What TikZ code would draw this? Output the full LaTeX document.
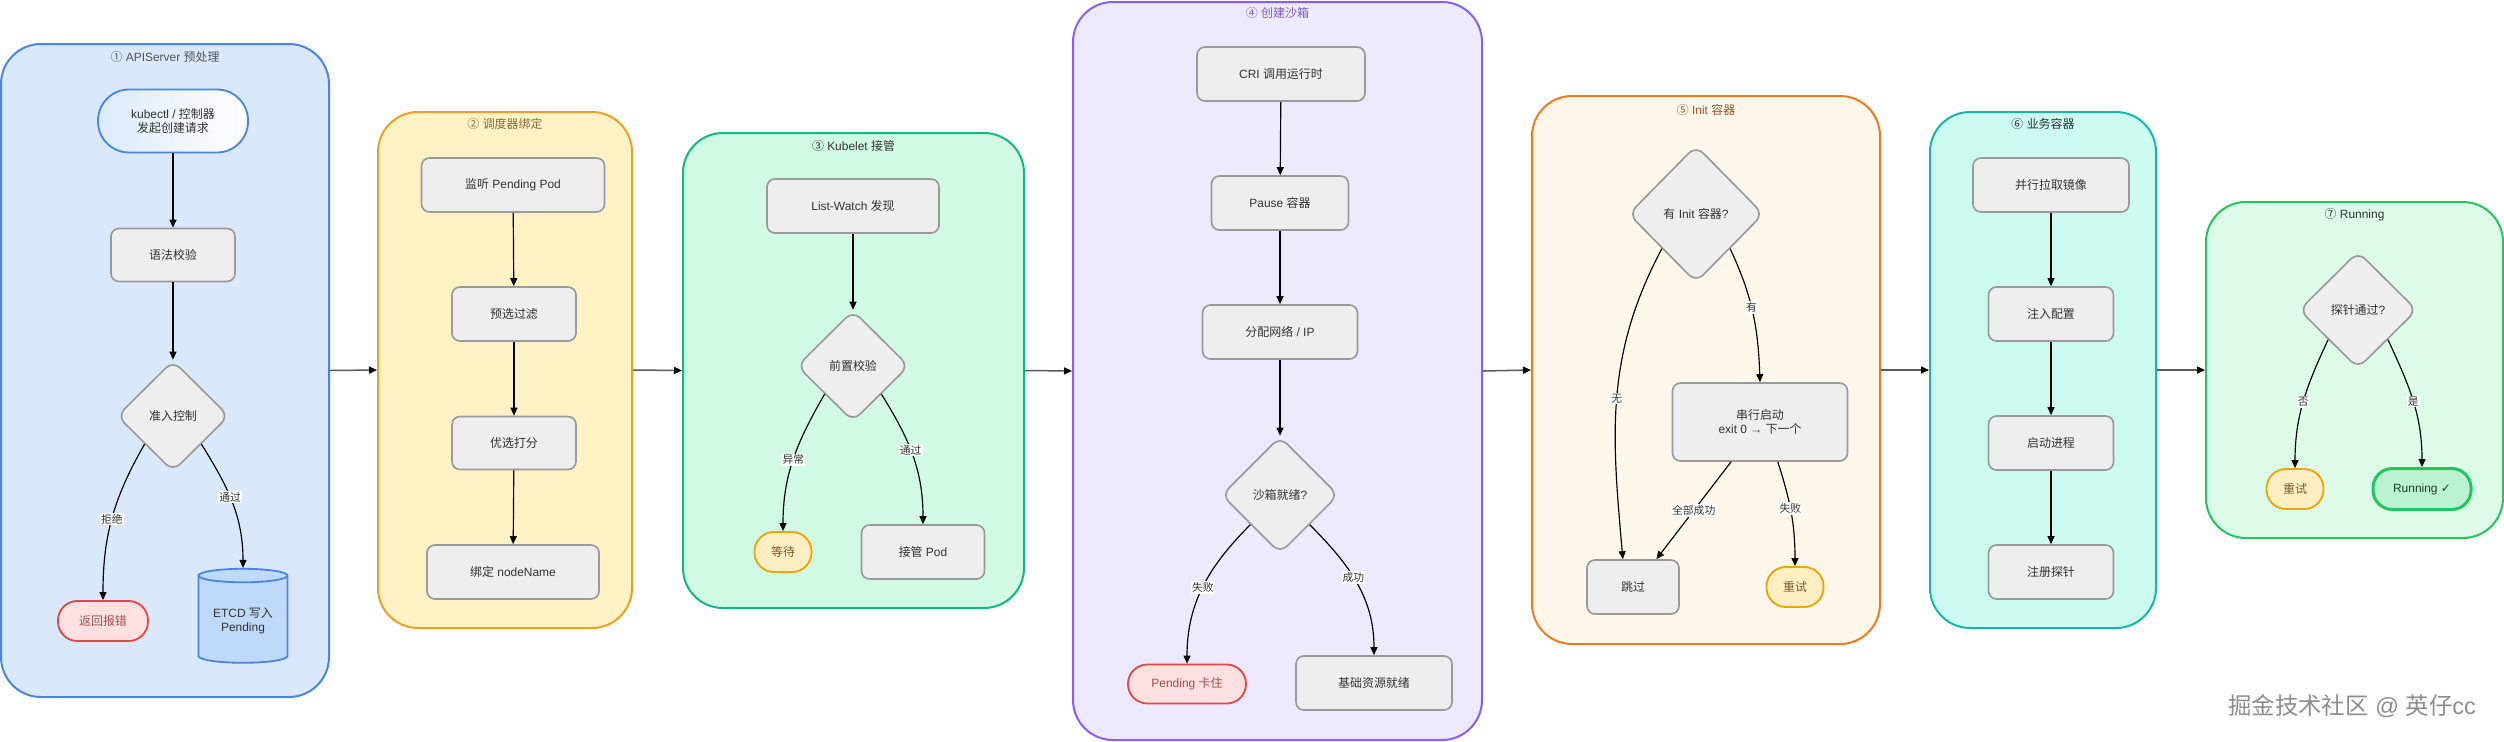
\documentclass[tikz,border=0pt]{standalone}
\usepackage{fontspec}
\setmainfont{Liberation Sans}
\newfontfamily\cjkfont{Noto Sans CJK SC}
\newfontfamily\latfont{Liberation Sans}
\newfontfamily\symfont{DejaVu Sans}
\usepackage{xcolor}
\usepackage{tikz}
\usetikzlibrary{shapes.geometric,shapes.misc,arrows.meta,positioning,calc}

% switch to the CJK face for ideographs and circled digits
\chardef\cjkclass=10
\newcount\cjkcode
\cjkcode="4E00
\loop
  \XeTeXcharclass\cjkcode=\cjkclass
  \advance\cjkcode by 1
\ifnum\cjkcode<"9FFF\repeat
\cjkcode="2460
\loop
  \XeTeXcharclass\cjkcode=\cjkclass
  \advance\cjkcode by 1
\ifnum\cjkcode<"2467\repeat
\XeTeXinterchartoks 0 \cjkclass = {\cjkfont}
\XeTeXinterchartoks 4095 \cjkclass = {\cjkfont}
\XeTeXinterchartoks \cjkclass 0 = {\latfont}
\XeTeXinterchartoks \cjkclass 4095 = {\latfont}
\XeTeXinterchartokenstate=1

\definecolor{txtGray}{HTML}{333333}
\definecolor{procFill}{HTML}{EEEEEE}
\definecolor{procLine}{HTML}{9A9A9A}
\definecolor{linkGray}{HTML}{5A5A5A}
\definecolor{blueFill}{HTML}{DAE8FC}
\definecolor{blueLine}{HTML}{4A86E0}
\definecolor{blueTitle}{HTML}{555555}
\definecolor{kubeL}{HTML}{DCEAFB}
\definecolor{etcdFill}{HTML}{BFD9FB}
\definecolor{yelFill}{HTML}{FFF2C4}
\definecolor{yelLine}{HTML}{F0A020}
\definecolor{yelTitle}{HTML}{8B6A3A}
\definecolor{mintFill}{HTML}{D1FAE5}
\definecolor{mintLine}{HTML}{10B981}
\definecolor{lavFill}{HTML}{EDE9FE}
\definecolor{lavLine}{HTML}{8B5CF6}
\definecolor{lavTitle}{HTML}{7B5FC9}
\definecolor{orgFill}{HTML}{FFF7EA}
\definecolor{orgLine}{HTML}{F07A20}
\definecolor{orgTitle}{HTML}{A0522D}
\definecolor{tealFill}{HTML}{CCFBF1}
\definecolor{tealLine}{HTML}{14B8A6}
\definecolor{grnFill}{HTML}{DCFCE7}
\definecolor{grnLine}{HTML}{22C55E}
\definecolor{redFill}{HTML}{FDE0E0}
\definecolor{redLine}{HTML}{E04848}
\definecolor{redText}{HTML}{A05050}
\definecolor{ambFill}{HTML}{FFEFC2}
\definecolor{ambLine}{HTML}{F0A500}
\definecolor{ambText}{HTML}{7A5A2A}
\definecolor{okFill}{HTML}{BBF2CF}
\definecolor{okLine}{HTML}{22C55E}
\definecolor{okText}{HTML}{1F3D2A}
\definecolor{wmGray}{HTML}{8C8C8C}

\begin{document}
\begin{tikzpicture}[x=0.3mm,y=-0.3mm,
    >={Triangle[length=2.4mm,width=2.1mm]},
    every node/.style={font=\fontsize{10.2}{12.5}\selectfont,text=txtGray},
    gsize/.style 2 args={minimum width=#1*0.3mm,minimum height=#2*0.3mm},
    group/.style={rectangle,draw,rounded corners=12mm,line width=0.6mm,inner sep=0},
    title/.style={font=\fontsize{10.2}{12}\selectfont},
    proc/.style={rectangle,draw=procLine,fill=procFill,rounded corners=2.4mm,line width=0.5mm},
    decision/.style={diamond,aspect=1,draw=procLine,fill=procFill,rounded corners=3mm,line width=0.5mm,inner sep=0},
    pill/.style={rectangle,rounded corners=5.8mm,line width=0.55mm},
    amber/.style={pill,draw=ambLine,fill=ambFill,text=ambText},
    lbl/.style={fill=white,inner sep=1pt,font=\fontsize{9.2}{10}\selectfont},
    flow/.style={->,line width=0.35mm},
    link/.style={-{Triangle[length=2.4mm,width=2.1mm,color=black]},line width=0.45mm,draw=linkGray}]

\useasboundingbox (0,0) rectangle (2504,741);

% stage frames
\node[group,draw=blueLine,fill=blueFill,gsize={328}{653}] (g1) at (165,370.5) {};
\node[group,draw=yelLine,fill=yelFill,gsize={254}{516}] (g2) at (505,370) {};
\node[group,draw=mintLine,fill=mintFill,gsize={341}{475}] (g3) at (853.5,370.5) {};
\node[group,draw=lavLine,fill=lavFill,gsize={409}{738}] (g4) at (1277.5,371) {};
\node[group,draw=orgLine,fill=orgFill,gsize={348}{548}] (g5) at (1706,370) {};
\node[group,draw=tealLine,fill=tealFill,gsize={226}{516}] (g6) at (2043,370) {};
\node[group,draw=grnLine,fill=grnFill,gsize={297}{336}] (g7) at (2354.5,370) {};

\node[title,text=blueTitle] (t1) at ([yshift=-4.2mm]g1.north) {① APIServer 预处理};
\node[title,text=yelTitle] (t2) at ([yshift=-3.9mm]g2.north) {② 调度器绑定};
\node[title] (t3) at ([yshift=-4.2mm]g3.north) {③ Kubelet 接管};
\node[title,text=lavTitle] (t4) at ([yshift=-3.6mm]g4.north) {④ 创建沙箱};
\node[title,text=orgTitle] (t5) at ([yshift=-4.5mm]g5.north) {⑤ Init 容器};
\node[title] (t6) at ([yshift=-3.9mm]g6.north) {⑥ 业务容器};
\node[title] (t7) at ([yshift=-4.2mm]g7.north) {⑦ Running};

\foreach \a/\b in {g1/g2,g2/g3,g3/g4,g4/g5,g5/g6,g6/g7}
  \draw[link] (\a.east) -- (\b.west);

% 1 apiserver
\node[pill,rounded corners=9.3mm,draw=blueLine,left color=kubeL,right color=white,
      gsize={150}{63},align=center] (req) at (173,121) {kubectl / 控制器\\发起创建请求};
\node[proc,gsize={124}{53}] (syntax) at (173,255) {语法校验};
\node[decision,gsize={112}{111}] (admit) at (173,416) {准入控制};
\node[pill,draw=redLine,fill=redFill,text=redText,gsize={90}{40}] (reject) at (103,621) {返回报错};
\node[cylinder,shape border rotate=90,aspect=0.2,draw=blueLine,fill=etcdFill,line width=0.55mm,
      gsize={89}{94},align=center] (etcd) at (243,621) {ETCD 写入\\Pending};

\draw[flow] (req) -- (syntax);
\draw[flow] (syntax) -- (admit);
\draw[flow] (admit.south west) to[out=-120,in=90] node[lbl,pos=0.5] {拒绝} (reject.north);
\draw[flow] (admit.south east) to[out=-58,in=90] node[lbl,pos=0.45] {通过} (etcd.north);

% 2 scheduler
\node[proc,gsize={183}{54}] (watch) at (513,185) {监听 Pending Pod};
\node[proc,gsize={124}{54}] (filter) at (514,314) {预选过滤};
\node[proc,gsize={124}{53}] (score) at (514,443) {优选打分};
\node[proc,gsize={172}{54}] (bind) at (513,572) {绑定 nodeName};
\foreach \a/\b in {watch/filter,filter/score,score/bind}
  \draw[flow] (\a) -- (\b);

% 3 kubelet
\node[proc,gsize={172}{54}] (listw) at (853,206) {List-Watch 发现};
\node[decision,gsize={112}{111}] (precheck) at (853,366) {前置校验};
\node[amber,gsize={57}{40}] (wait) at (783,552) {等待};
\node[proc,gsize={123}{54}] (adopt) at (923,552) {接管 Pod};

\draw[flow] (listw) -- (precheck);
\draw[flow] (precheck.south west) to[out=-120,in=90] node[lbl,pos=0.5] {异常} (wait.north);
\draw[flow] (precheck.south east) to[out=-58,in=90] node[lbl,pos=0.45] {通过} (adopt.north);

% 4 sandbox
\node[proc,gsize={168}{54}] (cri) at (1281,74) {CRI 调用运行时};
\node[proc,gsize={137}{54}] (pause) at (1280,203) {Pause 容器};
\node[proc,gsize={155}{54}] (net) at (1280,332) {分配网络 / IP};
\node[decision,gsize={117}{117}] (sbready) at (1280,495) {沙箱就绪?};
\node[pill,draw=redLine,fill=redFill,text=redText,gsize={118}{39}] (stuck) at (1187,684) {Pending 卡住};
\node[proc,gsize={156}{54}] (base) at (1374,683) {基础资源就绪};

\foreach \a/\b in {cri/pause,pause/net,net/sbready}
  \draw[flow] (\a) -- (\b);
\draw[flow] (sbready.south west) to[out=-135,in=90] node[lbl,pos=0.5] {失败} (stuck.north);
\draw[flow] (sbready.south east) to[out=-45,in=90] node[lbl,pos=0.45] {成功} (base.north);

% 5 init containers
\node[decision,gsize={135}{137}] (hasinit) at (1696,214) {有 Init 容器?};
\node[proc,gsize={175}{78},align=center] (serial) at (1760,422) {串行启动\\exit 0 → 下一个};
\node[proc,gsize={92}{54}] (skip) at (1633,587) {跳过};
\node[amber,gsize={57}{40}] (retry) at (1795,587) {重试};

\draw[flow] (hasinit.south west) to[out=-118,in=95] node[lbl,pos=0.5] {无} (skip.110);
\draw[flow] (hasinit.south east) to[out=-65,in=92] node[lbl,pos=0.45] {有} (serial.north);
\draw[flow] (serial.234) -- node[lbl,pos=0.5] {全部成功} (skip.50);
\draw[flow] (serial.294) to[out=-72,in=90] node[lbl,pos=0.45] {失败} (retry.north);

% 6 app containers
\node[proc,gsize={156}{54}] (pull) at (2051,185) {并行拉取镜像};
\node[proc,gsize={125}{54}] (inject) at (2051,314) {注入配置};
\node[proc,gsize={125}{54}] (launch) at (2051,443) {启动进程};
\node[proc,gsize={125}{54}] (probe) at (2051,572) {注册探针};
\foreach \a/\b in {pull/inject,inject/launch,launch/probe}
  \draw[flow] (\a) -- (\b);

% 7 running
\node[decision,gsize={118}{117}] (probeok) at (2358,310) {探针通过?};
\node[amber,gsize={57}{40}] (retry2) at (2295,489) {重试};
\node[pill,draw=okLine,fill=okFill,line width=0.9mm,text=okText,gsize={98}{41}] (running) at (2422,489) {Running {\symfont ✓}};

\draw[flow] (probeok.south west) to[out=-115,in=90] node[lbl,pos=0.5] {否} (retry2.north);
\draw[flow] (probeok.south east) to[out=-65,in=90] node[lbl,pos=0.5] {是} (running.north);

\node[font=\fontsize{20}{22}\selectfont,text=wmGray] (wm) at (2352,706) {掘金技术社区 @ 英仔cc};

\end{tikzpicture}
\end{document}
